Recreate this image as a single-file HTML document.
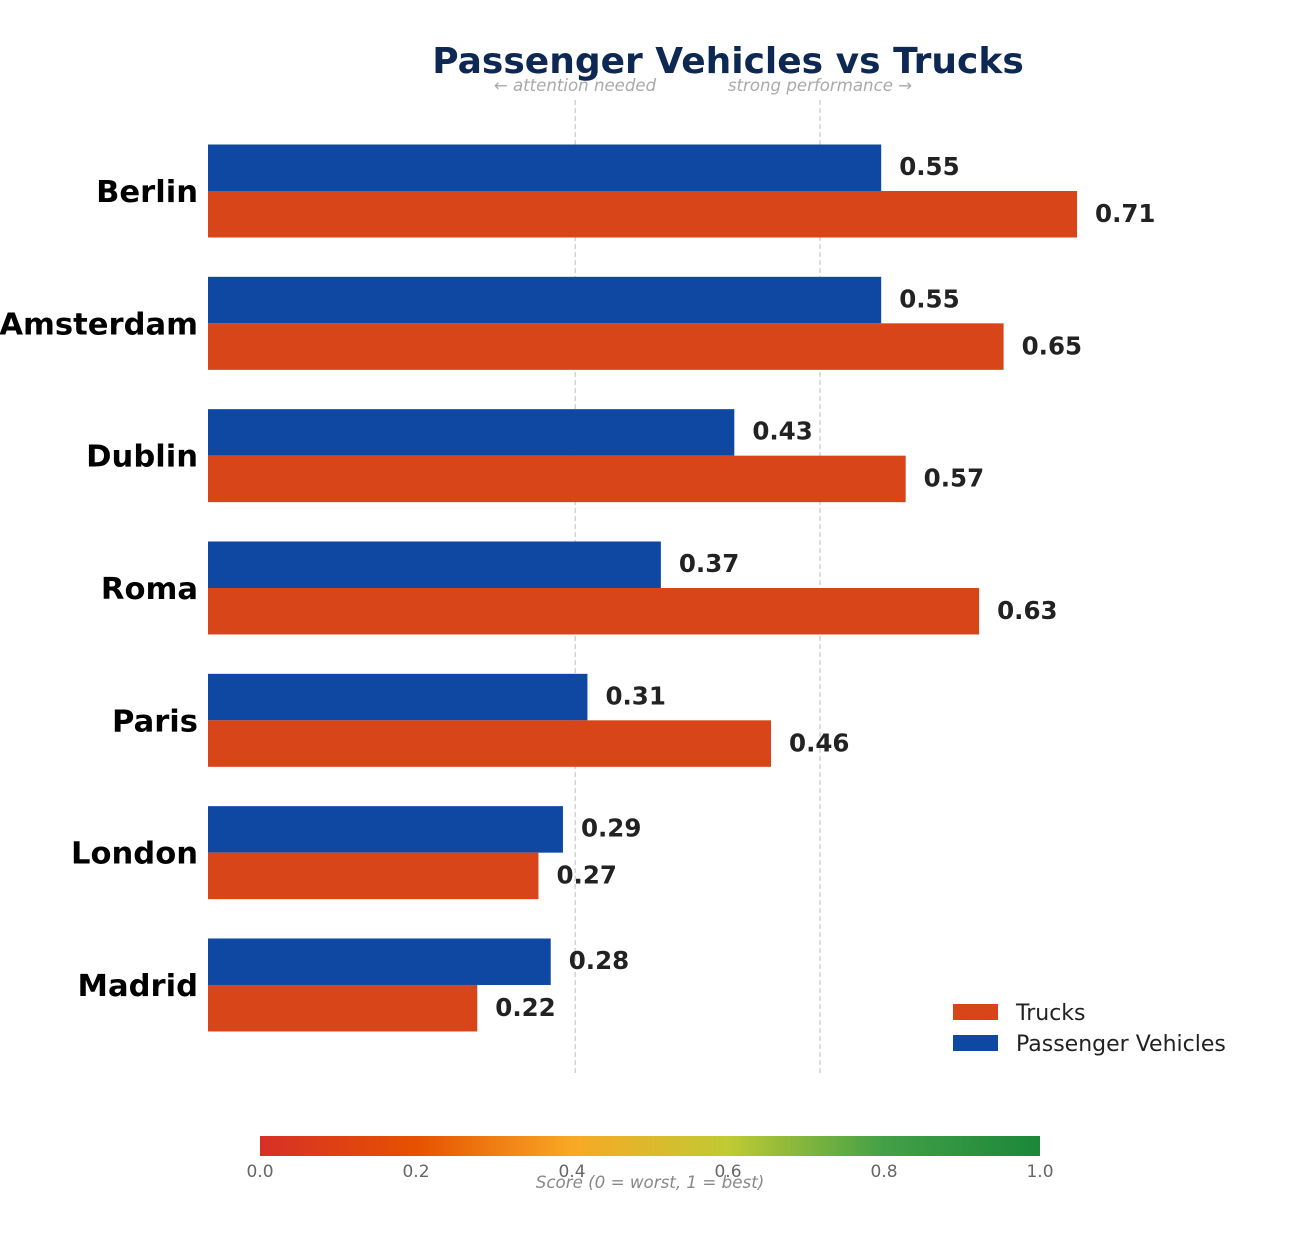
<!DOCTYPE html>
<html><head><meta charset="utf-8"><style>
body{margin:0;background:#fff;}
svg{display:block;font-family:"DejaVu Sans","Liberation Sans",sans-serif;}
</style></head><body>
<svg id="chart" width="1300" height="1250" viewBox="0 0 1300 1250">
<defs>
<linearGradient id="cb" x1="0" x2="1" y1="0" y2="0">
<stop offset="0" stop-color="#d73027"/>
<stop offset="0.2" stop-color="#e65100"/>
<stop offset="0.4" stop-color="#f9a825"/>
<stop offset="0.6" stop-color="#c0ca33"/>
<stop offset="0.8" stop-color="#43a047"/>
<stop offset="1" stop-color="#1b873a"/>
</linearGradient>
</defs>
<text x="728" y="73" text-anchor="middle" font-size="36" font-weight="bold" fill="#0d2853">Passenger Vehicles vs Trucks</text>
<text x="575" y="91" text-anchor="middle" font-size="16.6" font-style="italic" fill="#aaa">← attention needed</text>
<text x="820" y="91" text-anchor="middle" font-size="16.6" font-style="italic" fill="#aaa">strong performance →</text>
<g id="grid"></g>
<g id="bars"></g>
<g>
<rect x="953" y="1004" width="45" height="16" fill="#d84518"/>
<text x="1016" y="1020" font-size="22" fill="#222">Trucks</text>
<rect x="953" y="1035" width="45" height="16" fill="#0f48a3"/>
<text x="1016" y="1051" font-size="22" fill="#222">Passenger Vehicles</text>
</g>
<rect x="260" y="1136" width="780" height="20" fill="url(#cb)"/>
<g id="cbticks"></g>
<text x="650" y="1188" text-anchor="middle" font-size="16.7" font-style="italic" fill="#888">Score (0 = worst, 1 = best)</text>
</svg>
<script>
const categories = ["Berlin","Amsterdam","Dublin","Roma","Paris","London","Madrid"];
const passengerValues = [0.55,0.55,0.43,0.37,0.31,0.29,0.28];
const truckValues = [0.71,0.65,0.57,0.63,0.46,0.27,0.22];
const refLines = [0.3,0.5];
const cbTicks = ["0.0","0.2","0.4","0.6","0.8","1.0"];
const NS="http://www.w3.org/2000/svg";
const x0=208, scale=1224;
const xs=v=>x0+v*scale;
const ys=i=>191+i*132.33;
const barH=46.5;
function mk(tag,attrs,parent,txt){const e=document.createElementNS(NS,tag);for(const k in attrs)e.setAttribute(k,attrs[k]);if(txt!==undefined)e.textContent=txt;parent.appendChild(e);return e;}
const grid=document.getElementById('grid'), bars=document.getElementById('bars'), cbt=document.getElementById('cbticks');
refLines.forEach(v=>{
  const l=mk('line',{x1:xs(v),x2:xs(v),y1:100,y2:1075,stroke:'#ccc','stroke-width':1.3,'stroke-dasharray':'5,3'},grid);
  
  
});
categories.forEach((c,i)=>{
  const y=ys(i);
  const t=mk('text',{x:198,y:y+11,'text-anchor':'end','font-size':30.6,'font-weight':'bold',fill:'#000'},bars,c);
  
  
  const pv=passengerValues[i], tv=truckValues[i];
  const b1=mk('rect',{x:x0,y:y-barH,width:xs(pv)-x0,height:barH,fill:'#0f48a3'},bars);
  
  
  const b2=mk('rect',{x:x0,y:y,width:xs(tv)-x0,height:barH,fill:'#d84518'},bars);
  
  
  const l1=mk('text',{x:xs(pv)+18,y:y-16,'font-size':24.5,'font-weight':'bold',fill:'#222'},bars,pv.toFixed(2));
  
  
  const l2=mk('text',{x:xs(tv)+18,y:y+31,'font-size':24.5,'font-weight':'bold',fill:'#222'},bars,tv.toFixed(2));
  
  
});
cbTicks.forEach((s,i)=>{
  const t=mk('text',{x:260+parseFloat(s)*780,y:1177,'text-anchor':'middle','font-size':17,fill:'#666'},cbt,s);
  
  
});
</script>
</body></html>
